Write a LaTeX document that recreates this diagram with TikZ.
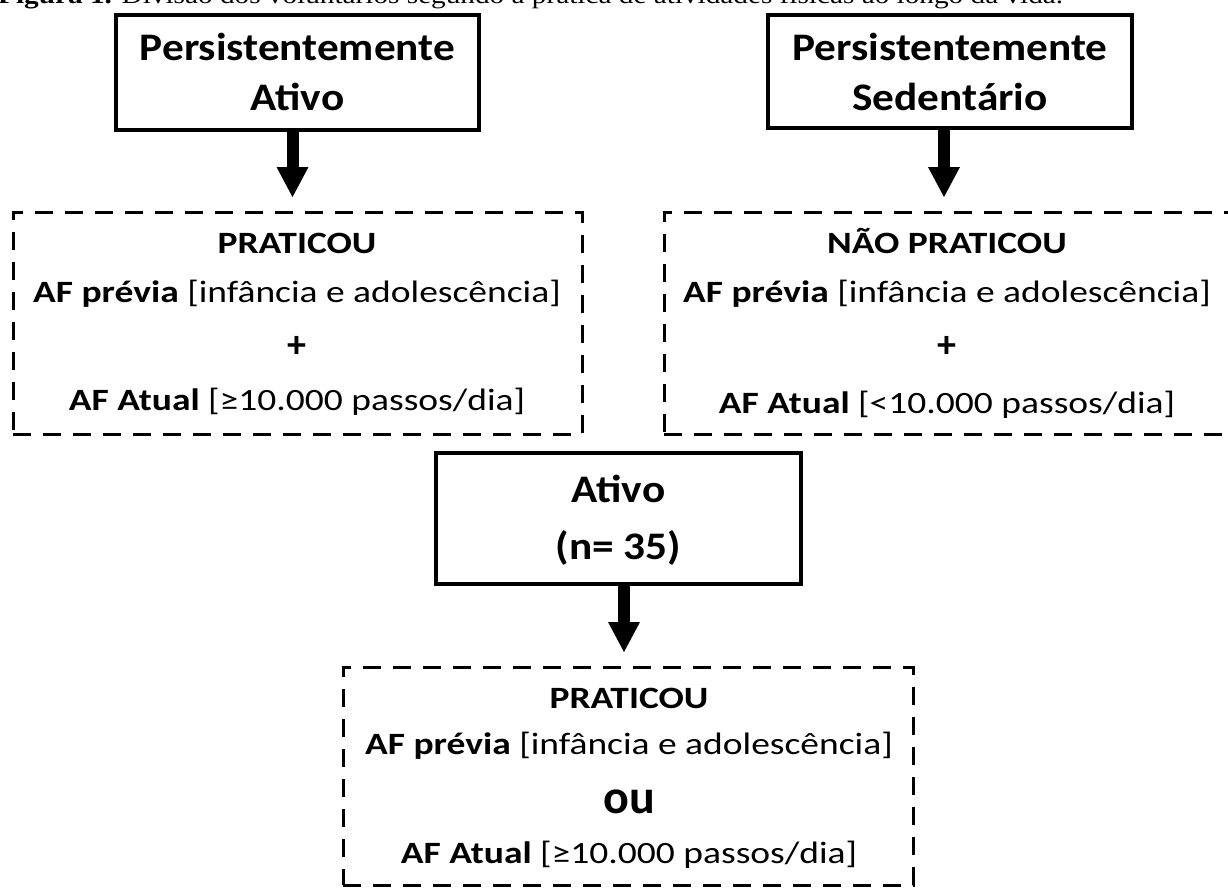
\documentclass[tikz,border=0pt]{standalone}
\usepackage{fontspec}
\newfontfamily\titlefont[FakeStretch=1.11]{Carlito}
\newfontfamily\bodyfont[FakeStretch=1.21]{Carlito}
\newfontfamily\orfont{Carlito}
\newfontfamily\capfont[FakeStretch=1.17]{Liberation Serif}
\usetikzlibrary{arrows.meta}
\tikzset{
  solidbox/.style={draw, line width=4pt, inner sep=0pt, outer sep=0pt},
  dashbox/.style={draw, line width=3pt, dash pattern=on 18pt off 12pt, inner sep=0pt, outer sep=0pt},
  title/.style={anchor=base, inner sep=0pt, font=\titlefont\bfseries\fontsize{39}{44}\selectfont},
  body/.style={anchor=base, inner sep=0pt, font=\bodyfont\fontsize{31}{36}\selectfont},
  plus/.style={anchor=center, inner sep=0pt, font=\orfont\bfseries\fontsize{38}{40}\selectfont},
  ortext/.style={anchor=base, inner sep=0pt, font=\orfont\bfseries\fontsize{48}{50}\selectfont},
  bigarrow/.style={line width=12pt, -{Triangle[length=30pt,width=32pt,line width=0pt]}, shorten >=15pt},
  caption/.style={anchor=base west, inner sep=0pt, font=\capfont\fontsize{25}{30}\selectfont}
}
\begin{document}
\begin{tikzpicture}[x=1pt,y=-1pt]
\useasboundingbox (0,0) rectangle (1228,887);
\clip (0,0) rectangle (1228,887);

\node[caption] (cap) at (-2,3) {\textbf{Figura 1.} Divisão dos voluntários segundo a prática de atividades físicas ao longo da vida.};

% top boxes
\node[solidbox, minimum width=363pt, minimum height=115pt] (b1) at (297.5,72.5) {};
\node[title] (b1a) at (297.5,60) {Persistentemente};
\node[title] (b1b) at (297.5,110) {Ativo};

\node[solidbox, minimum width=364pt, minimum height=113pt] (b2) at (950,71.5) {};
\node[title] (b2a) at (950,60) {Persistentemente};
\node[title] (b2b) at (950,110) {Sedentário};

% dashed boxes
\node[dashbox, minimum width=569pt, minimum height=222pt] (d1) at (297.5,323) {};
\node[body] (d1a) at (297,253) {\bfseries PRATICOU};
\node[body] (d1b) at (297,302) {\bfseries AF prévia \mdseries[infância e adolescência]};
\node[plus] (d1c) at (297,347) {+};
\node[body] (d1d) at (297,410) {\bfseries AF Atual \mdseries[≥10.000 passos/dia]};

\node[dashbox, minimum width=568pt, minimum height=222pt] (d2) at (948,323) {};
\node[body] (d2a) at (947,253) {\bfseries NÃO PRATICOU};
\node[body] (d2b) at (947,302) {\bfseries AF prévia \mdseries[infância e adolescência]};
\node[plus] (d2c) at (947,347) {+};
\node[body] (d2d) at (947,413) {\bfseries AF Atual \mdseries[<10.000 passos/dia]};

% middle box
\node[solidbox, minimum width=365pt, minimum height=131pt] (b3) at (618.5,518.5) {};
\node[title] (b3a) at (618.5,502) {Ativo};
\node[title] (b3b) at (618.5,559) {(n= 35)};

\node[dashbox, minimum width=570pt, minimum height=218pt] (d3) at (628,776) {};
\node[body] (d3a) at (629,708) {\bfseries PRATICOU};
\node[body] (d3b) at (629,754) {\bfseries AF prévia \mdseries[infância e adolescência]};
\node[ortext] (d3c) at (629,813) {ou};
\node[body] (d3d) at (629,863) {\bfseries AF Atual \mdseries[≥10.000 passos/dia]};

% arrows
\draw[bigarrow] ([xshift=-5pt]b1.south) -- ([xshift=-5pt]b1.south |- d1.north);
\draw[bigarrow] ([xshift=-6pt]b2.south) -- ([xshift=-6pt]b2.south |- d2.north);
\draw[bigarrow] ([xshift=5.5pt]b3.south) -- ([xshift=5.5pt]b3.south |- d3.north);
\end{tikzpicture}
\end{document}
